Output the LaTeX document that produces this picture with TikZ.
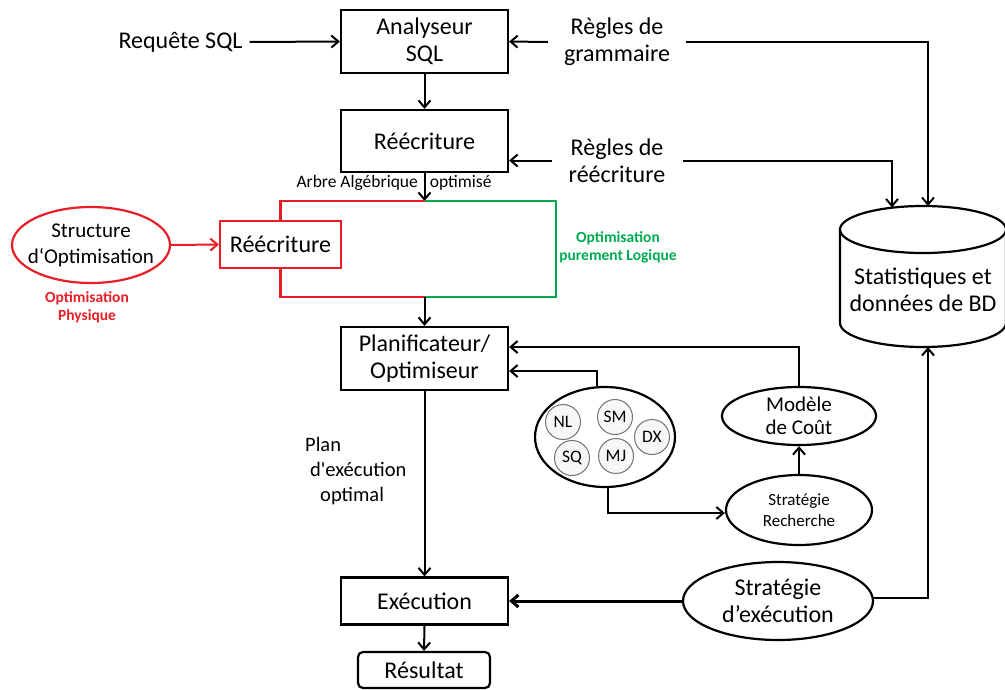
\documentclass[tikz,border=0pt]{standalone}
\usepackage{fontspec}
\setmainfont{Carlito}[Ligatures=TeXOff]
\usetikzlibrary{arrows.meta,shapes.geometric,calc}
\definecolor{optred}{RGB}{232,30,38}
\definecolor{optgreen}{RGB}{0,170,80}
\tikzset{
  tip/.style={-{Straight Barb[length=7pt,width=12pt]}},
  arr/.style={line width=2pt,tip},
  box/.style={draw,line width=2.2pt,minimum width=167pt,inner sep=0pt,align=center,
    font=\fontsize{24}{27}\selectfont},
  lbl/.style={inner sep=0pt,align=center,font=\fontsize{24}{27}\selectfont},
  oval/.style={ellipse,draw,line width=2.2pt,inner sep=0pt,align=center},
  algo/.style={circle,draw=black!55,fill=black!3,line width=1pt,minimum size=35pt,inner sep=0pt,
    font=\fontsize{17.5}{20}\selectfont},
  redl/.style={draw=optred,line width=2.2pt},
  greenl/.style={draw=optgreen,line width=2.2pt},
  note/.style={inner sep=0pt,align=center,font=\fontsize{15.5}{18}\selectfont\bfseries},
}
\begin{document}
\begin{tikzpicture}[x=1pt,y=-1pt]
\useasboundingbox (0,0) rectangle (1005,689);

% main pipeline boxes
\node[box,minimum height=63pt] (ana) at (424.5,41.5) {Analyseur\\SQL};
\node[box,minimum height=62pt] (rew) at (424.5,141) {Réécriture};
\node[box,minimum height=63pt] (plan) at (424.5,358.5) {Planificateur/\\Optimiseur};
\node[box,minimum height=47pt] (exe) at (424.5,601) {Exécution};
\node[box,minimum width=132pt,minimum height=36pt,rounded corners=5pt] (res) at (424,670) {Résultat};

% inputs and rules
\node[lbl] (req) at (180.5,42) {Requête SQL};
\node[lbl] (gram) at (617,42) {Règles de\\grammaire};
\node[lbl] (rrw) at (617,160.5) {Règles de\\réécriture};

\draw[arr] ([xshift=7pt]req.east) -- (ana.west);
\draw[arr] ([xshift=-16pt]gram.west) -- (ana.east);
\coordinate (rrwl) at ([xshift=-17pt]rrw.west);
\draw[arr] (rrwl) -- (rrwl -| rew.east);
\draw[arr] (ana.south) -- (rew.north);

% database
\coordinate (dbc) at (923,229.5);
\draw[line width=2.2pt,fill=white] (840,229.5) -- (840,323)
  arc[start angle=180,end angle=0,x radius=83,y radius=24] -- (1006,229.5);
\draw[line width=2.2pt] (dbc) ellipse[x radius=83,y radius=23.5];
\node[lbl] (db) at (923,290) {Statistiques et\\données de BD};
\coordinate (dbin1) at (892,207.5);
\coordinate (dbin2) at (928,206);
\coordinate (dbout) at (928,347);

\draw[arr] ([xshift=16pt]gram.east) -| (dbin2);
\draw[arr] ([xshift=17pt]rrw.east) -| (dbin1);

% logical / physical optimisation frame
\node[inner sep=0pt,font=\fontsize{17.5}{20}\selectfont] (arb) at (394,183) {Arbre Algébrique\hspace{12pt}optimisé};
\coordinate (ftop) at (424.5,201);
\coordinate (fbot) at (424.5,297);
\coordinate (fright) at (556,297);
\node[draw=optred,line width=2.2pt,minimum width=121pt,minimum height=47pt,inner sep=0pt,
  font=\fontsize{24}{27}\selectfont] (rr) at (280.5,244.5) {Réécriture};
\draw[arr] (rew.south) -- (ftop);
\draw[redl] (ftop) -| (rr.north);
\draw[redl] (rr.south) |- (fbot);
\draw[greenl] (ftop) -| (fright) -- (fbot);

\node[oval,draw=optred,minimum width=158pt,minimum height=76pt] (so) at (91,245) {};
\node[lbl,font=\fontsize{21}{26}\selectfont] (sotxt) at (so) {Structure\\d‘Optimisation};
\draw[draw=optred,line width=2pt,tip] (so.east) -- (rr.west);

\node[note,text=optred] (phy) at (87,307) {Optimisation\\Physique};
\node[note,text=optgreen] (log) at (618,247.5) {Optimisation\\purement Logique};

\draw[arr] (fbot) -- (plan.north);

% join algorithms, cost model, search strategy
\node[oval,minimum width=140pt,minimum height=100pt] (alg) at (605,437) {};
\node[algo] (nl) at (563,422) {NL};
\node[algo] (sm) at (615,417) {SM};
\node[algo] (dx) at (652,437) {DX};
\node[algo] (sq) at (572,458) {SQ};
\node[algo] (mj) at (616,456) {MJ};

\node[oval,minimum width=154pt,minimum height=58pt] (cout) at (799,416) {};
\node[lbl,font=\fontsize{21}{23}\selectfont] (couttxt) at (cout) {Modèle\\de Coût};
\node[oval,minimum width=146pt,minimum height=70pt] (strat) at (799,510) {};
\node[lbl,font=\fontsize{17}{21}\selectfont] (strattxt) at (strat) {Stratégie\\Recherche};

\draw[arr] (cout.north) |- ([yshift=11.5pt]plan.east);
\draw[arr] ([xshift=-8pt]alg.north) |- ([yshift=-12.5pt]plan.east);
\draw[arr] ([xshift=3pt]alg.south) |- ([yshift=-3pt]strat.west);
\draw[arr] (strat.north) -- (cout.south);

% execution
\node[inner sep=0pt,align=left,anchor=west,font=\fontsize{20.5}{25}\selectfont] (plantxt) at (305,471)
  {Plan\\\hspace*{5pt}d'exécution\\\hspace*{15pt}optimal};
\draw[arr] (plan.south) -- (exe.north);

\node[oval,minimum width=190pt,minimum height=78pt] (sexe) at (778,601) {};
\node[lbl] (sexetxt) at (sexe) {Stratégie\\d’exécution};
\draw[line width=3pt,tip] (sexe.west) -- (exe.east);
\draw[arr] ([yshift=3pt]sexe.east) -| (dbout);
\draw[arr] (exe.south) -- (res.north);
\end{tikzpicture}
\end{document}
